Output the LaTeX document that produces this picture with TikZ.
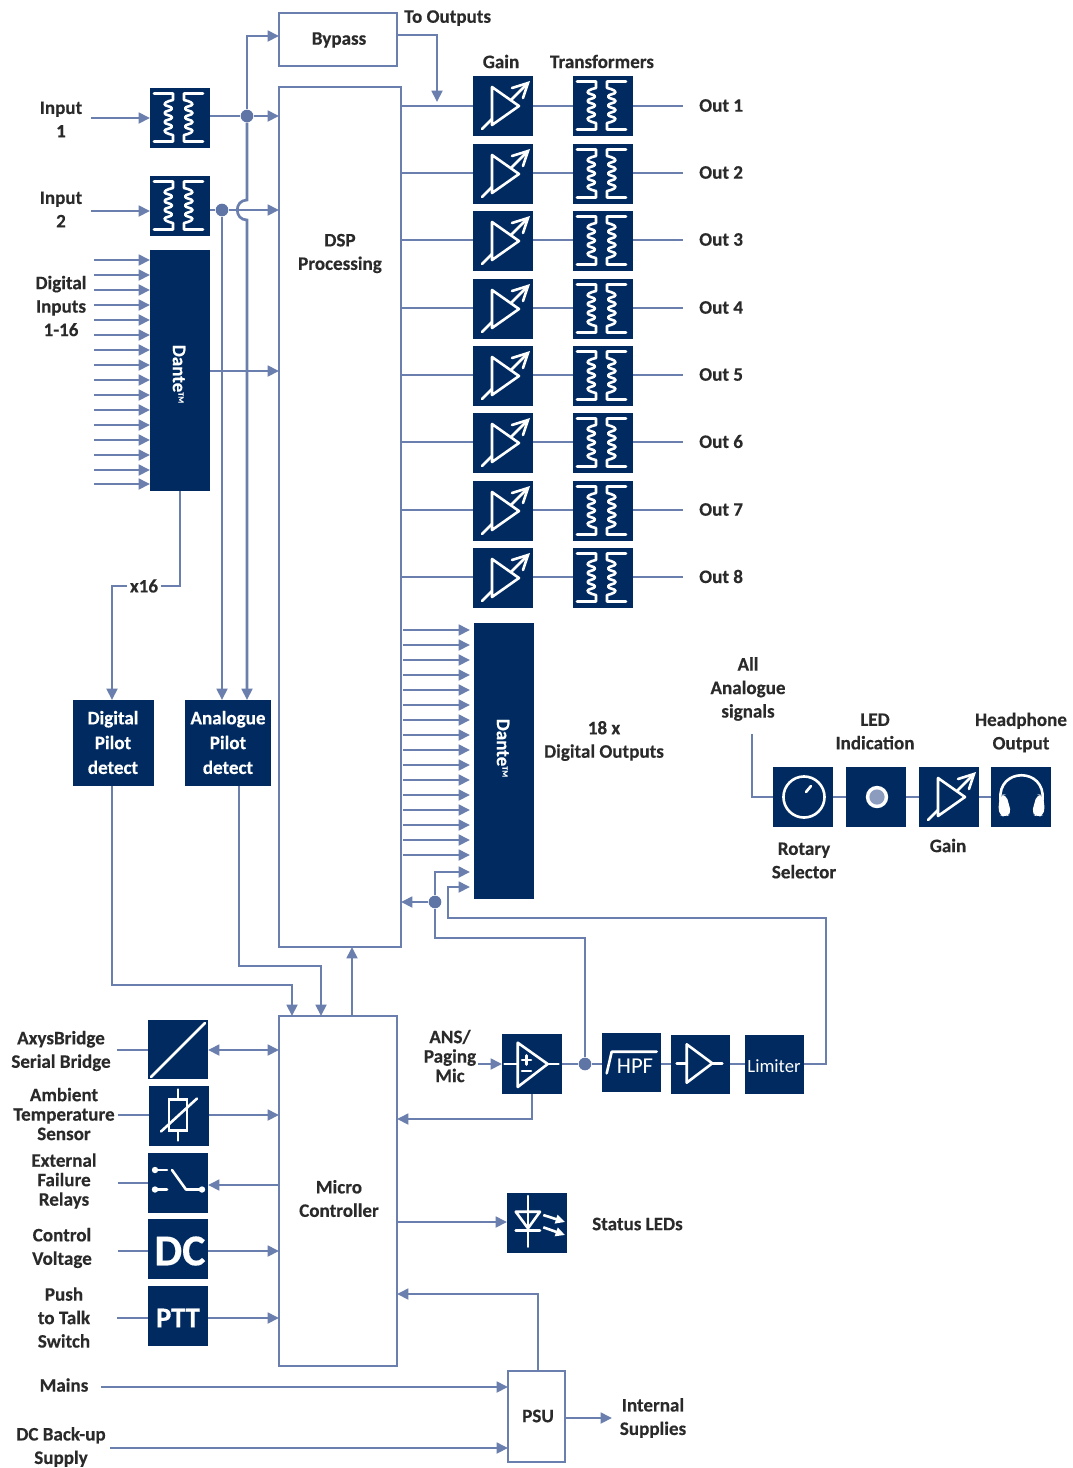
\documentclass[tikz,border=0pt]{standalone}
\usepackage{fontspec}
\setmainfont[BoldFont={Carlito Bold},BoldFeatures={FakeBold=0.35}]{Carlito}
\usetikzlibrary{arrows.meta}
\definecolor{navy}{HTML}{012B60}
\definecolor{wire}{HTML}{6A7FAD}
\definecolor{dotc}{HTML}{5F75A6}
\definecolor{ink}{HTML}{2A2A2A}
\definecolor{ledc}{HTML}{8C9CBF}
\newcommand{\nb}[5]{% name x y w h
  \pgfmathsetmacro{\cx}{#2+#4/2}\pgfmathsetmacro{\cy}{#3+#5/2}
  \pgfmathsetmacro{\ww}{#4*0.75}\pgfmathsetmacro{\hh}{#5*0.75}
  \node[navybox,minimum width=\ww pt,minimum height=\hh pt] (#1) at (\cx,\cy) {};}
\newcommand{\ob}[5]{% outlined box
  \pgfmathsetmacro{\cx}{#2+#4/2}\pgfmathsetmacro{\cy}{#3+#5/2}
  \pgfmathsetmacro{\ww}{#4*0.75}\pgfmathsetmacro{\hh}{#5*0.75}
  \node[wirebox,minimum width=\ww pt,minimum height=\hh pt] (#1) at (\cx,\cy) {};}
\newcommand{\xfmr}[3]{\nb{#1}{#2}{#3}{60}{60}
  \begin{scope}[shift={(#2,#3)}]
  \draw[icon] (4,5.5)--(23,5.5)--(23,11) -- plot[smooth,tension=1] coordinates {(23,12) (14.5,16) (22,20.5) (14.5,25) (22,29.5) (14.5,34) (22,38.5) (14.5,43) (23,47)} --(23,53.5)--(4,53.5);
  \draw[icon] (53,5.5)--(34,5.5)--(34,11) -- plot[smooth,tension=1] coordinates {(34,12) (42.5,16) (35,20.5) (42.5,25) (35,29.5) (42.5,34) (35,38.5) (42.5,43) (34,47)} --(34,53.5)--(53,53.5);
  \end{scope}}
\newcommand{\gainicon}[3]{\nb{#1}{#2}{#3}{60}{60}
  \begin{scope}[shift={(#2,#3)}]
  \draw[icon,line join=round] (19,11)--(46,30)--(19,49)--cycle;
  \draw[icon] (9,53)--(19,43);
  \draw[icon] (38,24)--(55,7);
  \draw[icon,line join=miter] (39,12)--(55,7)--(50,22);
  \end{scope}}
\tikzset{
  navybox/.style={fill=navy,draw=none,inner sep=0pt,outer sep=0pt},
  wirebox/.style={draw=wire,line width=2pt,fill=none,inner sep=0pt,outer sep=0pt},
  icon/.style={draw=white,line width=1.95pt,line cap=round,line join=round},
  wireline/.style={draw=wire,line width=2pt},
  arr/.style={wireline,-{Triangle[length=8.5pt,width=8pt]}},
  arrb/.style={wireline,{Triangle[length=8.5pt,width=8pt]}-{Triangle[length=8.5pt,width=8pt]}},
  dot/.style={circle,fill=dotc,draw=none,minimum size=9.5pt,inner sep=0pt},
  lbl/.style={font=\fontsize{14.3}{17.6}\bfseries\selectfont,text=ink,align=center,inner sep=0pt},
  lblt/.style={font=\fontsize{14.3}{14.6}\bfseries\selectfont,text=ink,align=center,inner sep=0pt},
  wlbl/.style={font=\fontsize{14.3}{18.6}\bfseries\selectfont,text=white,align=center,inner sep=0pt},
}
\begin{document}
\begin{tikzpicture}[x=0.75pt,y=-0.75pt]
\useasboundingbox (0,0) rectangle (1073,1468);
% main outlined boxes
\ob{bypass}{279}{13}{118}{53}
\ob{dsp}{279}{87}{122}{860}
\ob{micro}{279}{1016}{118}{350}
\ob{psu}{508}{1371}{57}{91}
\node[lbl] (tbypass) at (339,40) {Bypass};
\node[lbl] (tdsp) at (340,253.5) {DSP\\Processing};
\node[lbl] (tmicro) at (339,1198.5) {Micro\\Controller};
\node[lbl] (tpsu) at (538,1416) {PSU};
% input stage
\xfmr{ti1}{150}{88}
\xfmr{ti2}{150}{176}
\nb{dantein}{150}{250}{60}{241}
\node[wlbl,rotate=-90] (tdantein) at (179,374) {Dante\raisebox{0.6ex}{\fontsize{6}{6}\selectfont TM}};
\node[lbl] (lin1) at (61,119.5) {Input\\1};
\node[lbl] (lin2) at (61,209.5) {Input\\2};
\node[lbl] (ldig) at (61,306) {Digital\\Inputs\\1-16};
\coordinate (c1) at (91,118);
\coordinate (c2) at (91,211);
\draw[arr] (c1) -- (ti1.west |- c1);
\draw[arr] (c2) -- (ti2.west |- c2);
\node[dot] (j1) at (247,116) {};
\node[dot] (j2) at (222,210) {};
\draw[wireline] (ti1.east |- j1) -- (j1);
\draw[arr] (j1) -- (dsp.west |- j1);
\draw[arr] (j1) -- (247,36) -- (bypass.west |- 0,36);
\draw[wireline] (ti2.east |- j2) -- (j2);
\draw[arr] (j2) -- (dsp.west |- j2);
\foreach \y in {260,275,290,305,320,335,350,365,380,395,410,425,440,455,470,484}
  \draw[arr] (94,\y) -- (dantein.west |- 0,\y);
\draw[arr] (dantein.east |- 0,371) -- (dsp.west |- 0,371);
% pilot detect
\nb{dpd}{73}{700}{81}{86}
\nb{apd}{185}{700}{86}{86}
\node[wlbl] (tdpd) at (113,742.5) {Digital\\Pilot\\detect};
\node[wlbl] (tapd) at (228,742.5) {Analogue\\Pilot\\detect};
\draw[arr] (j2) -- (apd.north -| j2);
\draw[arr] (j1) -- (247,200) .. controls (234,200) and (234,220) .. (247,220) -- (apd.north -| 247,0);
\node[lbl,fill=white,inner xsep=2pt] (tx16) at (144,586) {x16};
\draw[wireline] (dantein.south -| 180,0) -- (180,586) -- (tx16.east);
\draw[arr] (tx16.west) -- (112,586) -- (dpd.north -| 112,0);
\draw[arr] (dpd.south -| 112,0) -- (112,985) -- (292,985) -- (micro.north -| 292,0);
\draw[arr] (apd.south -| 239,0) -- (239,966) -- (321,966) -- (micro.north -| 321,0);
\draw[arr] (micro.north -| 352,0) -- (dsp.south -| 352,0);
% bypass out
\node[lbl,anchor=west] (ltoout) at (404,18) {To Outputs};
\draw[arr] (bypass.east |- 0,35) -- (437,35) -- (437,102);
% outputs
\node[lbl] (lgain) at (501,61.5) {Gain};
\node[lbl] (ltrans) at (602,61.5) {Transformers};
\foreach \i/\y/\ly in {1/76/106,2/144/173,3/211/240,4/279/308,5/346/375,6/413/442,7/481/510,8/548/577}{
  \gainicon{g\i}{473}{\y}
  \xfmr{t\i}{573}{\y}
  \coordinate (oe\i) at (683,\ly);
  \draw[wireline] (dsp.east |- oe\i) -- (g\i.west |- oe\i);
  \draw[wireline] (g\i.east |- oe\i) -- (t\i.west |- oe\i);
  \draw[wireline] (t\i.east |- oe\i) -- (oe\i);
  \node[lbl,anchor=west] (lo\i) at (699,\ly-0.5) {Out \i};
}
% dante out
\nb{danteout}{474}{623}{60}{276}
\node[wlbl,rotate=-90] (tdanteout) at (503,748) {Dante\raisebox{0.6ex}{\fontsize{6}{6}\selectfont TM}};
\foreach \y in {630,645,660,675,690,705,720,735,750,765,780,795,810,825,840,855}
  \draw[arr] (403,\y) -- (470,\y);
\node[lbl] (l18) at (604,741) {18 x\\Digital Outputs};
\node[dot] (j3) at (435,902) {};
\node[dot] (j4) at (585,1064) {};
\draw[arr] (j3) -- (dsp.east |- j3);
\draw[arr] (j3) -- (435,872) -- (470,872);
\draw[wireline] (j3) -- (435,938) -- (585,938) -- (j4);
% monitor
\nb{rot}{773}{767}{60}{60}
\nb{led}{846}{767}{60}{60}
\gainicon{gm}{919}{767}
\nb{hp}{991}{767}{60}{60}
\coordinate (allsig) at (752,734);
\draw[wireline] (allsig) -- (752,797) -- (rot.west);
\draw[wireline] (rot.east) -- (led.west);
\draw[wireline] (led.east) -- (gm.west);
\draw[wireline] (gm.east) -- (hp.west);
\begin{scope}[shift={(773,767)}]
  \draw[icon] (31,30) circle[radius=15.4pt];
  \draw[icon] (33,25)--(38,19);
\end{scope}
\fill[white] (877,797) circle[radius=8.4pt];
\fill[ledc] (877,797) circle[radius=5.7pt];
\begin{scope}[shift={(991,767)}]
  \draw[icon] (9.5,33) .. controls (6,0) and (55,0) .. (51.5,33);
  \fill[white,rounded corners=4pt] (7.5,35)--(10,28)--(15,27)--(20.5,47)--(14,50)--(8,48)--cycle;
  \fill[white,rounded corners=4pt] (53.5,35)--(51,28)--(46,27)--(40.5,47)--(47,50)--(53,48)--cycle;
\end{scope}
\node[lbl] (lall) at (748,689) {All\\Analogue\\signals};
\node[lbl] (lled) at (875,731.5) {LED\\Indication};
\node[lbl] (lhp) at (1021,732.5) {Headphone\\Output};
\node[lbl] (lrot) at (804,860.5) {Rotary\\Selector};
\node[lbl] (lgm) at (948,845.5) {Gain};
% left side controls
\nb{ax}{148}{1020}{60}{59}
\nb{tmp}{149}{1086}{60}{60}
\nb{rel}{148}{1153}{60}{60}
\nb{dcb}{148}{1219}{60}{60}
\nb{ptt}{148}{1286}{60}{60}
\draw[icon] (151,1077)--(205,1023);
\begin{scope}[shift={(149,1086)}]
  \draw[icon,line join=miter] (20,13.5) rectangle (38,44.5);
  \draw[icon] (29,3.5)--(29,13.5);
  \draw[icon] (29,44.5)--(29,54.5);
  \draw[icon] (12,45.5)--(48,12.5);
\end{scope}
\begin{scope}[shift={(148,1153)}]
  \fill[white] (7,17) circle[radius=2.4pt];
  \fill[white] (7,36.5) circle[radius=2.4pt];
  \fill[white] (54,36.5) circle[radius=2.4pt];
  \draw[icon] (7,17)--(19,17);
  \draw[icon] (7,36.5)--(19,36.5);
  \draw[icon] (24,17)--(38,36.5)--(54,36.5);
\end{scope}
\node[font=\fontsize{33}{33}\selectfont\bfseries,text=white,inner sep=0pt] (tdc) at (180,1251) {DC};
\node[font=\fontsize{21.5}{21.5}\selectfont\bfseries,text=white,inner sep=0pt] (tptt) at (178,1318) {PTT};
\foreach \n/\y/\xs in {ax/1050/117,tmp/1115/118,rel/1183/118,dcb/1251/118,ptt/1318/117}
  \draw[wireline] (\xs,\y) -- (\n.west |- 0,\y);
\draw[arrb] (ax.east |- 0,1050) -- (micro.west |- 0,1050);
\draw[arr] (tmp.east |- 0,1115) -- (micro.west |- 0,1115);
\draw[arr] (micro.west |- 0,1185) -- (rel.east |- 0,1185);
\draw[arr] (dcb.east |- 0,1251) -- (micro.west |- 0,1251);
\draw[arr] (ptt.east |- 0,1318) -- (micro.west |- 0,1318);
\node[lbl] (lax) at (61,1051) {AxysBridge\\Serial Bridge};
\node[lblt] (lamb) at (64,1114) {Ambient\\Temperature\\Sensor};
\node[lblt] (lext) at (64,1181) {External\\Failure\\Relays};
\node[lbl] (lctl) at (62,1248) {Control\\Voltage};
\node[lbl] (lptt) at (64,1317.5) {Push\\to Talk\\Switch};
% mic chain
\nb{ans}{502}{1034}{60}{60}
\nb{hpf}{602}{1033}{59}{59}
\nb{amp}{671}{1035}{59}{59}
\nb{lim}{745}{1035}{59}{59}
\begin{scope}[shift={(502,1034)}]
  \draw[icon] (15.7,8.7)--(45.7,30)--(15.7,53)--cycle;
  \draw[icon] (2.5,30)--(15.7,30);
  \draw[icon] (45.7,30)--(56.5,30);
  \draw[icon] (20,26)--(29,26);
  \draw[icon] (24.5,21.5)--(24.5,30.5);
  \draw[icon] (20,37)--(29,37);
\end{scope}
\begin{scope}[shift={(602,1033)}]
  \draw[icon] (4.7,40.3)--(9.7,18.7)--(54.7,18.7);
\end{scope}
\node[font=\fontsize{17}{17}\selectfont,text=white,inner sep=0pt] (thpf) at (635,1066.5) {HPF};
\begin{scope}[shift={(671,1035)}]
  \draw[icon] (15.7,9.3)--(41.3,28.3)--(15.7,47.7)--cycle;
  \draw[icon] (5.7,28.3)--(15.7,28.3);
  \draw[icon] (41.3,28.3)--(51.3,28.3);
\end{scope}
\node[font=\fontsize{14}{14}\selectfont,text=white,inner sep=0pt] (tlim) at (774,1066) {Limiter};
\coordinate (micin) at (478,1064);
\draw[arr] (micin) -- (ans.west |- micin);
\draw[wireline] (ans.east |- j4) -- (j4);
\draw[wireline] (j4) -- (hpf.west |- j4);
\draw[wireline] (hpf.east |- j4) -- (amp.west |- j4);
\draw[wireline] (amp.east |- j4) -- (lim.west |- j4);
\draw[arr] (lim.east |- j4) -- (826,1064) -- (826,918) -- (448,918) -- (448,887) -- (470,887);
\draw[arr] (ans.south -| 532,0) -- (532,1119) -- (micro.east |- 0,1119);
\node[lblt] (lans) at (450,1056) {ANS/\\Paging\\Mic};
% status
\nb{stat}{507}{1193}{60}{60}
\begin{scope}[shift={(507,1193)}]
  \draw[icon] (21,3)--(21,53.7);
  \draw[icon] (8.7,18.7)--(33,18.7)--(21,35.3)--cycle;
  \draw[icon] (8.7,37.3)--(33,37.3);
  \draw[draw=white,line width=1.95pt,-{Triangle[length=7pt,width=6.5pt]}] (36.3,22)--(58,29);
  \draw[draw=white,line width=1.95pt,-{Triangle[length=7pt,width=6.5pt]}] (36.3,34.3)--(58,42);
\end{scope}
\draw[arr] (micro.east |- 0,1222) -- (stat.west |- 0,1222);
\node[lbl,anchor=west] (lstat) at (592,1224) {Status LEDs};
% psu
\draw[arr] (psu.north -| 538,0) -- (538,1294) -- (micro.east |- 0,1294);
\coordinate (mainsin) at (101,1387);
\coordinate (dcin) at (110,1448);
\coordinate (supply) at (612,1418);
\draw[arr] (mainsin) -- (psu.west |- mainsin);
\draw[arr] (dcin) -- (psu.west |- dcin);
\draw[arr] (psu.east |- supply) -- (supply);
\node[lbl] (lmains) at (64,1385) {Mains};
\node[lbl] (ldcb) at (61,1447) {DC Back-up\\Supply};
\node[lbl] (lint) at (653,1418) {Internal\\Supplies};
\end{tikzpicture}
\end{document}
